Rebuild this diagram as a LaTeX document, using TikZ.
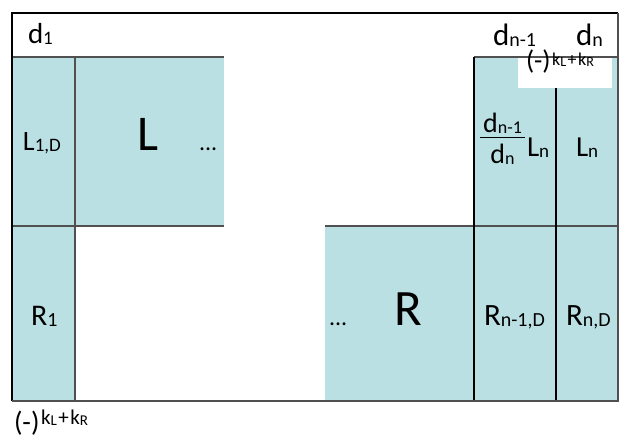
\documentclass[tikz,border=0pt]{standalone}
\usepackage{fontspec}
\setmainfont{Carlito}
\definecolor{cellblue}{HTML}{BAE0E3}
\definecolor{linegray}{HTML}{505050}
\newcommand\fs[1]{\fontsize{#1}{#1}\selectfont}
\newcommand\sbs[2]{\raisebox{-1.5pt}{\fs{#1}#2}}
% #1 raise, #2 superscript size, #3 sub-subscript size
\newcommand\sgn[3]{(-)\kern1.5pt\raisebox{#1}{\fs{#2}k\raisebox{-1pt}{\fs{#3}L}\kern1.5pt+\kern1.5pt k\raisebox{-1pt}{\fs{#3}R}}}
\begin{document}
\begin{tikzpicture}[x=1pt,y=-1pt,
  lab/.style={anchor=base west,inner sep=0pt,outer sep=0pt},
  cell/.style={fill=cellblue,draw=none},
  gl/.style={draw=linegray,line width=1.6pt},
  bl/.style={draw=black,line width=1.1pt}]
\useasboundingbox (0,0) rectangle (630,445);
\fill[white] (0,0) rectangle (630,445);
% fills
\path[cell] (12,57) rectangle (75,401);
\path[cell] (75,57) rectangle (224,226);
\path[cell] (325,226) rectangle (618,401);
\path[cell] (474,57) rectangle (618,226);
% inner lines
\draw[gl] (12,57) -- (224,57);
\draw[gl] (12,226) -- (224,226);
\draw[gl] (325,226) -- (618,226);
\draw[gl] (474,57) -- (618,57);
\draw[gl] (75,57) -- (75,401);
\draw[bl] (474,57) -- (474,401);
\draw[bl] (556,57) -- (556,401);
% white box
\fill[white] (518,57.9) rectangle (612,88);
% outer frame
\draw[bl] (618,13) -- (12,13) -- (12,401);
\draw[gl] (12,401) -- (618,401) -- (618,13);
% labels
\node[lab] (d1) at (28,43) {\fs{29}d\sbs{19}{1}};
\node[lab] (l1d) at (23,150) {\fs{28}L\sbs{19}{1,D}};
\node[lab] (bigl) at (137,150) {\fs{50}L};
\node[lab] (ldots) at (199,150) {\fs{24}...};
\node[lab] (r1) at (31,325) {\fs{30}R\sbs{20}{1}};
\node[lab] (sgnb) at (14,431) {\fs{28}\sgn{7pt}{21}{15}};
\node[lab] (rdots) at (329,325) {\fs{24}...};
\node[lab] (bigr) at (394,325) {\fs{51}R};
\node[lab] (rn1d) at (484,325) {\fs{31}R\sbs{20}{n-1,D}};
\node[lab] (rnd) at (566,325) {\fs{31}R\sbs{20}{n,D}};
\node[lab] (dn1) at (493,45) {\fs{31}d\sbs{20}{n-1}};
\node[lab] (dn) at (576,45) {\fs{31}d\sbs{20}{n}};
\node[lab] (sgnt) at (526,69) {\fs{27}\sgn{4pt}{18}{14}};
\node[anchor=base,inner sep=0pt] (num) at (502.5,132) {\fs{28}d\sbs{18}{n-1}};
\node[anchor=base,inner sep=0pt] (den) at (502.5,163) {\fs{28}d\sbs{18}{n}};
\draw[line width=1.2pt] (480,137.5) -- (525,137.5);
\node[lab] (lnf) at (527,156) {\fs{29}L\sbs{19}{n}};
\node[lab] (ln) at (576,156) {\fs{29}L\sbs{19}{n}};
\end{tikzpicture}
\end{document}
